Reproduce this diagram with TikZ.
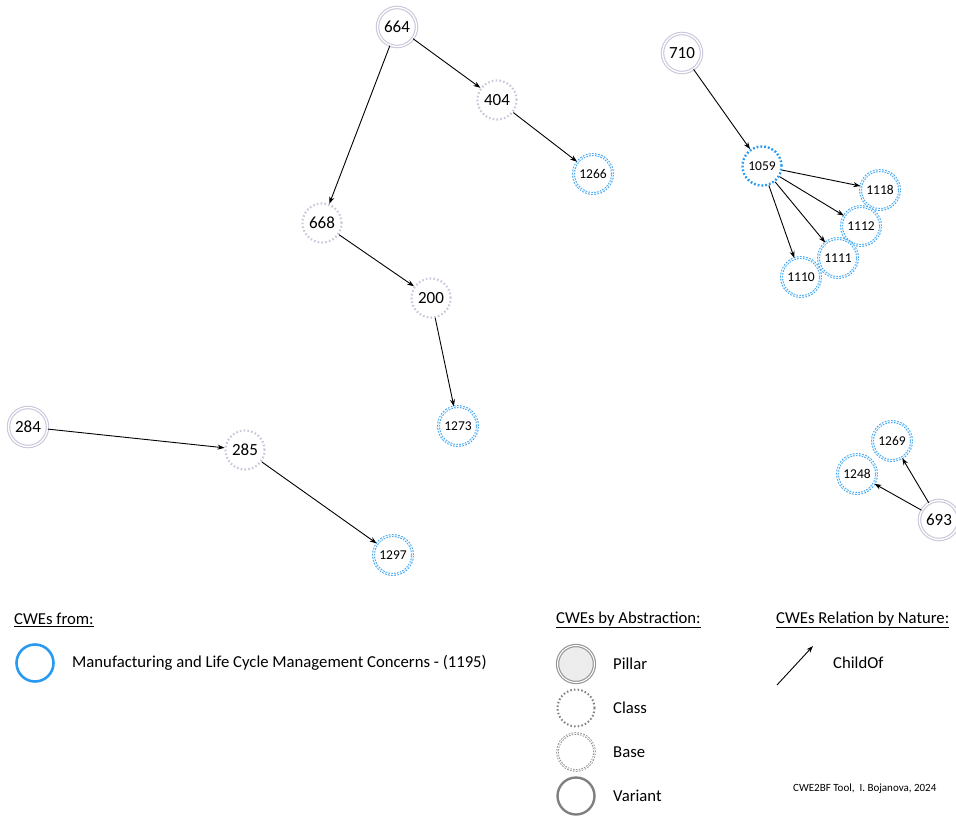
\documentclass[tikz,border=0pt]{standalone}
\usepackage{fontspec}
\setmainfont{Carlito}
\usetikzlibrary{arrows.meta}
\definecolor{lav}{RGB}{200,200,220}
\definecolor{cweblue}{RGB}{40,155,240}
\definecolor{lgray}{RGB}{128,128,128}
\tikzset{
  cwe/.style={circle, minimum size=39pt, inner sep=0pt, font=\fontsize{17}{17}\selectfont},
  small/.style={font=\fontsize{13.5}{13.5}\selectfont},
  pillar/.style={cwe, draw=lav, line width=1.1pt, double=white, double distance=1.3pt},
  classnode/.style={cwe, draw=lav, line width=2.2pt, dash pattern=on 1.6pt off 2.2pt},
  baseblue/.style={cwe, small, draw=cweblue!85, line width=1.1pt, double=white, double distance=0.8pt, dash pattern=on 1.6pt off 1.4pt},
  classblue/.style={cwe, small, draw=cweblue, line width=2.4pt, dash pattern=on 1.8pt off 2pt},
  child/.style={-{Stealth[length=7pt,width=5pt]}, line width=0.9pt, black},
  legtxt/.style={anchor=west, font=\fontsize{16.7}{16.7}\selectfont, inner sep=0pt},
  legcircle/.style={circle, minimum size=37pt, inner sep=0pt},
}
\begin{document}
\begin{tikzpicture}[x=1pt, y=-1pt]
\useasboundingbox (0,0) rectangle (956,816);

% CWE nodes
\node[pillar] (n664) at (397,27) {664};
\node[classnode] (n404) at (497,100) {404};
\node[baseblue] (n1266) at (593,174) {1266};
\node[classnode] (n668) at (322,223) {668};
\node[classnode] (n200) at (431,298) {200};
\node[baseblue] (n1273) at (458,426) {1273};
\node[pillar] (n284) at (28,427) {284};
\node[classnode] (n285) at (245,450) {285};
\node[baseblue] (n1297) at (393,555) {1297};
\node[pillar] (n710) at (682,53) {710};
\node[classblue] (n1059) at (762,166) {1059};
\node[baseblue] (n1118) at (880,190) {1118};
\node[baseblue] (n1112) at (861,226) {1112};
\node[baseblue] (n1111) at (838,258) {1111};
\node[baseblue] (n1110) at (801,277) {1110};
\node[baseblue] (n1269) at (892,441) {1269};
\node[baseblue] (n1248) at (857,474) {1248};
\node[pillar] (n693) at (939,520) {693};

% ChildOf relations
\draw[child] (n664) -- (n404);
\draw[child] (n664) -- (n668);
\draw[child] (n404) -- (n1266);
\draw[child] (n668) -- (n200);
\draw[child] (n200) -- (n1273);
\draw[child] (n284) -- (n285);
\draw[child] (n285) -- (n1297);
\draw[child] (n710) -- (n1059);
\draw[child] (n1059) -- (n1118);
\draw[child] (n1059) -- (n1112);
\draw[child] (n1059) -- (n1111);
\draw[child] (n1059) -- (n1110);
\draw[child] (n693) -- (n1269);
\draw[child] (n693) -- (n1248);

% Legend: source category
\node[legtxt] (hfrom) at (14,620) {\underline{CWEs from:}};
\node[legcircle, draw=cweblue, line width=2.6pt] (lblue) at (35,663) {};
\node[legtxt] (tblue) at (72,663) {Manufacturing and Life Cycle Management Concerns - (1195)};

% Legend: abstraction
\node[legtxt] (habs) at (556,620) {\underline{CWEs by Abstraction:}};
\node[legcircle, fill=black!7, draw=lgray!80, line width=1.2pt, double=white, double distance=1pt] (lpillar) at (576,664) {};
\node[legcircle, draw=lgray, line width=2pt, dash pattern=on 1.5pt off 2.2pt] (lclass) at (576,708) {};
\node[legcircle, draw=lgray!90, line width=0.9pt, double=white, double distance=0.8pt, dash pattern=on 1.5pt off 1.4pt] (lbase) at (576,752) {};
\node[legcircle, draw=lgray, line width=2.4pt] (lvariant) at (576,796) {};
\node[legtxt] (tpillar) at (613,664) {Pillar};
\node[legtxt] (tclass) at (613,708) {Class};
\node[legtxt] (tbase) at (613,752) {Base};
\node[legtxt] (tvariant) at (613,796) {Variant};

% Legend: relation nature
\node[legtxt] (hrel) at (776,620) {\underline{CWEs Relation by Nature:}};
\coordinate (ca) at (777,685);
\coordinate (cb) at (813,646);
\draw[child] (ca) -- (cb);
\node[legtxt] (tchild) at (833,663) {ChildOf};

\node[anchor=west, inner sep=0pt, font=\fontsize{11}{11}\selectfont] (credit) at (793,789) {CWE2BF Tool,\ \ I. Bojanova, 2024};
\end{tikzpicture}
\end{document}
